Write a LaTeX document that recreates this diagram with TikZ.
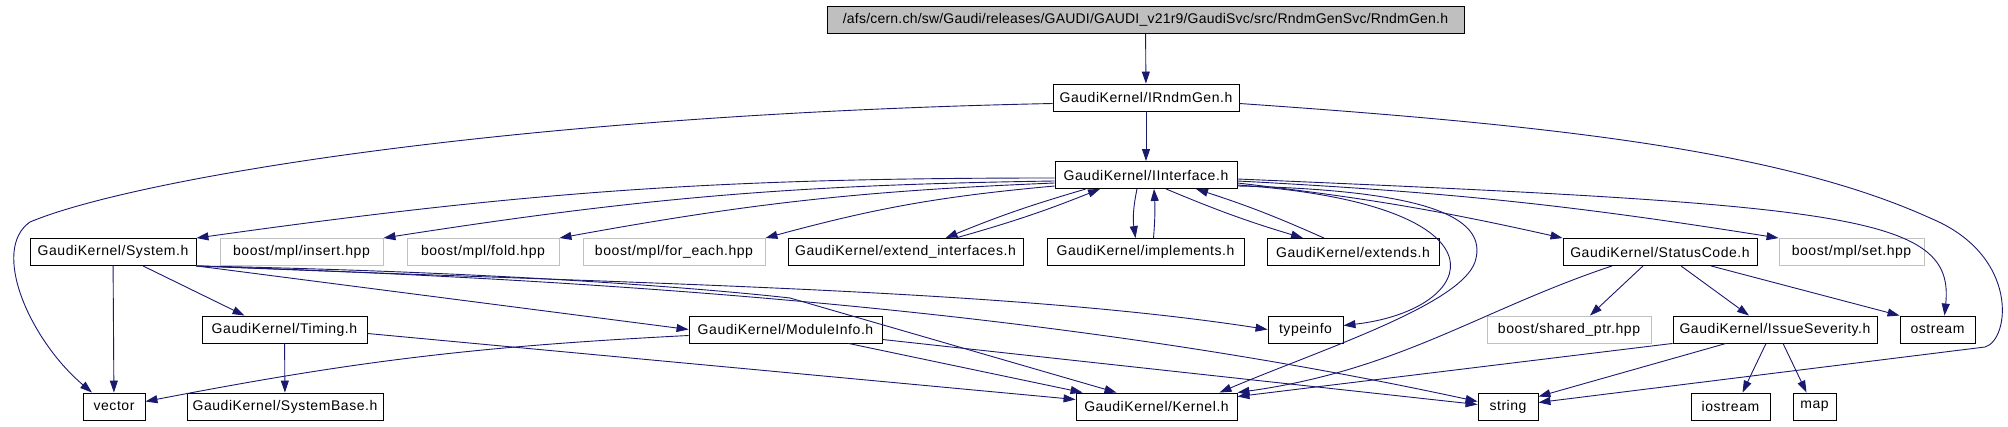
\documentclass[tikz,border=0pt]{standalone}
\usepackage{fontspec}
\setmainfont{Liberation Sans}[LetterSpace=4]
\usetikzlibrary{arrows.meta}
\definecolor{incblue}{HTML}{191970}
\definecolor{rootgray}{HTML}{BFBFBF}
\definecolor{extgray}{HTML}{C0C0C0}

\begin{document}
\begin{tikzpicture}[x=1pt, y=-1pt,
  file/.style={rectangle, draw=black, line width=0.9pt, fill=white,
  minimum height=27pt, inner sep=0pt, font=\fontsize{14}{16}\selectfont},
  ext/.style={file, draw=extgray},
  inc/.style={draw=incblue, line width=0.9pt, -{Triangle[length=12pt, width=8pt]}}]
  \useasboundingbox (0,0) rectangle (2008,427);

  \node[file, fill=rootgray, minimum width=637pt, font=\fontsize{14}{16}\selectfont\addfontfeatures{LetterSpace=1.5}] (rndmgen) at (1145.5,20) {/afs/cern.ch/sw/Gaudi/releases/GAUDI/GAUDI\_v21r9/GaudiSvc/src/RndmGenSvc/RndmGen.h};
  \node[file, minimum width=186pt] (irndmgen)   at (1146,97.5)  {GaudiKernel/IRndmGen.h};
  \node[file, minimum width=182pt] (iinterface) at (1146,175)   {GaudiKernel/IInterface.h};

  \node[file, minimum width=166pt] (system)     at (113,252)    {GaudiKernel/System.h};
  \node[ext,  minimum width=163pt] (insert)     at (301.5,252)  {boost/mpl/insert.hpp};
  \node[ext,  minimum width=152pt] (fold)       at (483,252)    {boost/mpl/fold.hpp};
  \node[ext,  minimum width=182pt] (foreach)    at (674,252)    {boost/mpl/for\_each.hpp};
  \node[file, minimum width=235pt] (extif)      at (905.5,252)  {GaudiKernel/extend\_interfaces.h};
  \node[file, minimum width=197pt] (implements) at (1145.5,252) {GaudiKernel/implements.h};
  \node[file, minimum width=172pt] (extends)    at (1353,252)   {GaudiKernel/extends.h};
  \node[file, minimum width=194pt] (statuscode) at (1660,252)   {GaudiKernel/StatusCode.h};
  \node[ext,  minimum width=145pt] (mplset)     at (1851.5,252) {boost/mpl/set.hpp};

  \node[file, minimum width=165pt] (timing)     at (284.5,329.5)  {GaudiKernel/Timing.h};
  \node[file, minimum width=193pt] (moduleinfo) at (785.5,329.5)  {GaudiKernel/ModuleInfo.h};
  \node[file, minimum width=75pt]  (typeinfo)   at (1305.5,329.5) {typeinfo};
  \node[ext,  minimum width=164pt] (sharedptr)  at (1569,329.5)   {boost/shared\_ptr.hpp};
  \node[file, minimum width=204pt] (severity)   at (1775,329.5)   {GaudiKernel/IssueSeverity.h};
  \node[file, minimum width=75pt]  (ostream)    at (1937.5,329.5) {ostream};

  \node[file, minimum width=62pt]  (vector)     at (114,406.5)    {vector};
  \node[file, minimum width=196pt] (systembase) at (285,406.5)    {GaudiKernel/SystemBase.h};
  \node[file, minimum width=161pt] (kernel)     at (1156.5,406.5) {GaudiKernel/Kernel.h};
  \node[file, minimum width=60pt]  (string)     at (1508,406.5)   {string};
  \node[file, minimum width=79pt]  (iostream)   at (1730.5,406.5) {iostream};
  \node[file, minimum width=43pt]  (map)        at (1814.5,406.5) {map};

  \draw[inc] (rndmgen) -- (irndmgen);
  \draw[inc] (irndmgen) -- (iinterface);
  \draw[inc] ([yshift=-6]irndmgen.west) .. controls (500,115) and (130,180) .. (30,222) .. controls (-10,250) and (30,340) .. ([xshift=-22]vector.north);
  \draw[inc] ([yshift=-6]irndmgen.east) .. controls (1550,125) and (1780,150) .. (1930,218) .. controls (2020,255) and (2010,340) .. (1985,347) -- ([yshift=4]string.east);

  \draw[inc] ([yshift=-3]iinterface.west) to[bend right=4] (system.north east);
  \draw[inc] ([yshift=-6]iinterface.west) to[bend right=4] (insert.north east);
  \draw[inc] ([yshift=-8]iinterface.west) to[bend right=4] (fold.north east);
  \draw[inc] ([yshift=-11]iinterface.west) to[bend right=5] (foreach.north east);
  \draw[inc] ([xshift=-60]iinterface.south) to[bend right=3] ([xshift=40]extif.north);
  \draw[inc] ([xshift=50]extif.north) to[bend right=3] ([xshift=-46]iinterface.south);
  \draw[inc] ([xshift=-9]iinterface.south) to[bend right=10] ([xshift=-10]implements.north);
  \draw[inc] ([xshift=8]implements.north) to[bend right=4] ([xshift=8]iinterface.south);
  \draw[inc] ([xshift=20]iinterface.south) to[bend right=3] ([xshift=-50]extends.north);
  \draw[inc] ([xshift=-29]extends.north) to[bend right=3] ([xshift=50]iinterface.south);
  \draw[inc] ([yshift=-8]iinterface.east) to[bend left=3] (statuscode.north west);
  \draw[inc] ([yshift=-6]iinterface.east) to[bend left=3] (mplset.north west);
  \draw[inc] ([yshift=-4]iinterface.east) .. controls (1850,205) and (1955,215) .. ([xshift=7]ostream.north);
  \draw[inc] ([yshift=-10]iinterface.east) .. controls (1520,205) and (1480,310) .. ([yshift=4]typeinfo.east);
  \draw[inc] ([yshift=-11]iinterface.east) .. controls (1420,190) and (1490,215) .. (1475,262) .. controls (1460,305) and (1320,350) .. ([xshift=63]kernel.north);

  \draw[inc] (system) -- (vector);
  \draw[inc] ([xshift=30]system.south) -- ([xshift=-40]timing.north);
  \draw[inc] (system.south east) -- (moduleinfo.west);
  \draw[inc] (system.south east) .. controls (600,283) and (1000,288) .. (typeinfo.west);
  \draw[inc] (system.south east) .. controls (500,272) and (700,288) .. (790,298) -- ([xshift=-40]kernel.north);
  \draw[inc] (system.south east) .. controls (700,283) and (1100,320) .. ([yshift=5]string.west);

  \draw[inc] (timing) -- (systembase);
  \draw[inc] ([yshift=-4]timing.east) -- ([yshift=7]kernel.west);

  \draw[inc] ([yshift=-6]moduleinfo.west) to[bend right=4] ([yshift=5]vector.east);
  \draw[inc] ([xshift=63]moduleinfo.south) -- ([xshift=7]kernel.north west);
  \draw[inc] ([yshift=-10]moduleinfo.east) -- ([yshift=2]string.west);

  \draw[inc] ([xshift=-48]statuscode.south) .. controls (1480,310) and (1400,370) .. (kernel.north east);
  \draw[inc] ([xshift=-17]statuscode.south) -- ([xshift=21]sharedptr.north);
  \draw[inc] ([xshift=21]statuscode.south) -- ([xshift=-26]severity.north);
  \draw[inc] ([xshift=51]statuscode.south) -- (ostream.north west);

  \draw[inc] (severity.south west) -- ([yshift=-4]kernel.north east);
  \draw[inc] ([xshift=-49]severity.south) -- ([yshift=-4]string.north east);
  \draw[inc] ([xshift=-9]severity.south) -- ([xshift=12]iostream.north);
  \draw[inc] ([xshift=8]severity.south) -- ([xshift=-8]map.north);
\end{tikzpicture}
\end{document}
